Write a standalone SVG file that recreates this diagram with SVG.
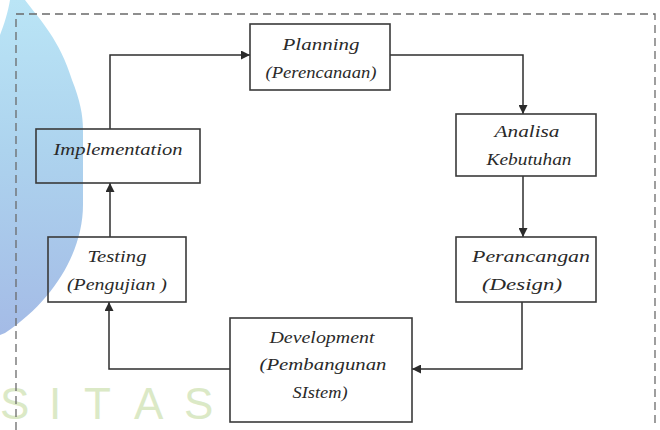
<svg xmlns="http://www.w3.org/2000/svg" width="660" height="430" viewBox="0 0 660 430">
<defs>
<linearGradient id="blob" x1="0" y1="0" x2="0" y2="1">
<stop offset="0" stop-color="#bae5f6"/>
<stop offset="0.45" stop-color="#add3ee"/>
<stop offset="1" stop-color="#a4bbe6"/>
</linearGradient>
<marker id="arr" viewBox="0 0 10 10" refX="10" refY="5" markerWidth="9" markerHeight="9" markerUnits="userSpaceOnUse" orient="auto">
<path d="M0,0 L10,5 L0,10 Z" fill="#2b2b2b"/>
</marker>
<style>
.box{fill:none;stroke:#3a3a3a;stroke-width:1.6}
.lbl{font-family:"Liberation Serif",serif;font-style:italic;font-size:17px;fill:#2a2a2a;text-anchor:middle}
.conn{fill:none;stroke:#2e2e2e;stroke-width:1.5;marker-end:url(#arr)}
.frame{fill:none;stroke:#6a6a6a;stroke-width:1.3;stroke-dasharray:8 5}
.wm{font-family:"Liberation Sans",sans-serif;font-size:44px;fill:#dbe9c6}
</style>
</defs>
<rect width="660" height="430" fill="#ffffff"/>
<path d="M10,0 L25,0 C40,20 60,40 72,80 C80,100 83,115 83,130 L83,205 C83,250 55,300 5,333 L0,335 L0,35 C4,25 8,12 10,0 Z" fill="url(#blob)"/>
<g id="watermark">
<text class="wm" x="0" y="419">S</text>
<text class="wm" x="49" y="419">I</text>
<text class="wm" x="84" y="419">T</text>
<text class="wm" x="134" y="419">A</text>
<text class="wm" x="184" y="419">S</text>
</g>
<g id="frame">
<path class="frame" d="M16,430 L16,14 L655,14 L655,428"/>
</g>
<g id="connectors">
<path class="conn" d="M110,129 L110,55 L250,55"/>
<path class="conn" d="M390,55 L523,55 L523,114"/>
<path class="conn" d="M523,176 L523,237"/>
<path class="conn" d="M522,302 L522,369 L412,369"/>
<path class="conn" d="M230,369 L109,369 L109,302"/>
<path class="conn" d="M110,237 L110,183"/>
</g>
<g id="planning">
<rect class="box" x="250" y="24" width="140" height="66"/>
<text class="lbl" x="321" y="50" textLength="77" lengthAdjust="spacingAndGlyphs">Planning</text>
<text class="lbl" x="321" y="78" textLength="111" lengthAdjust="spacingAndGlyphs">(Perencanaan)</text>
</g>
<g id="analisa">
<rect class="box" x="456" y="114" width="140" height="62"/>
<text class="lbl" x="527" y="137" textLength="65" lengthAdjust="spacingAndGlyphs">Analisa</text>
<text class="lbl" x="529" y="165" textLength="85" lengthAdjust="spacingAndGlyphs">Kebutuhan</text>
</g>
<g id="perancangan">
<rect class="box" x="456" y="237" width="140" height="65"/>
<text class="lbl" x="531" y="262" textLength="118" lengthAdjust="spacingAndGlyphs">Perancangan</text>
<text class="lbl" x="522" y="290" textLength="80" lengthAdjust="spacingAndGlyphs">(Design)</text>
</g>
<g id="development">
<rect class="box" x="230" y="318" width="182" height="104"/>
<text class="lbl" x="322" y="343" textLength="105" lengthAdjust="spacingAndGlyphs">Development</text>
<text class="lbl" x="323" y="370" textLength="127" lengthAdjust="spacingAndGlyphs">(Pembangunan</text>
<text class="lbl" x="320" y="398" textLength="55" lengthAdjust="spacingAndGlyphs">SIstem)</text>
</g>
<g id="testing">
<rect class="box" x="48" y="237" width="138" height="65"/>
<text class="lbl" x="117" y="262" textLength="59" lengthAdjust="spacingAndGlyphs">Testing</text>
<text class="lbl" x="117" y="290" textLength="100" lengthAdjust="spacingAndGlyphs">(Pengujian )</text>
</g>
<g id="implementation">
<rect class="box" x="36" y="129" width="164" height="54"/>
<text class="lbl" x="118" y="155" textLength="129" lengthAdjust="spacingAndGlyphs">Implementation</text>
</g>
</svg>
